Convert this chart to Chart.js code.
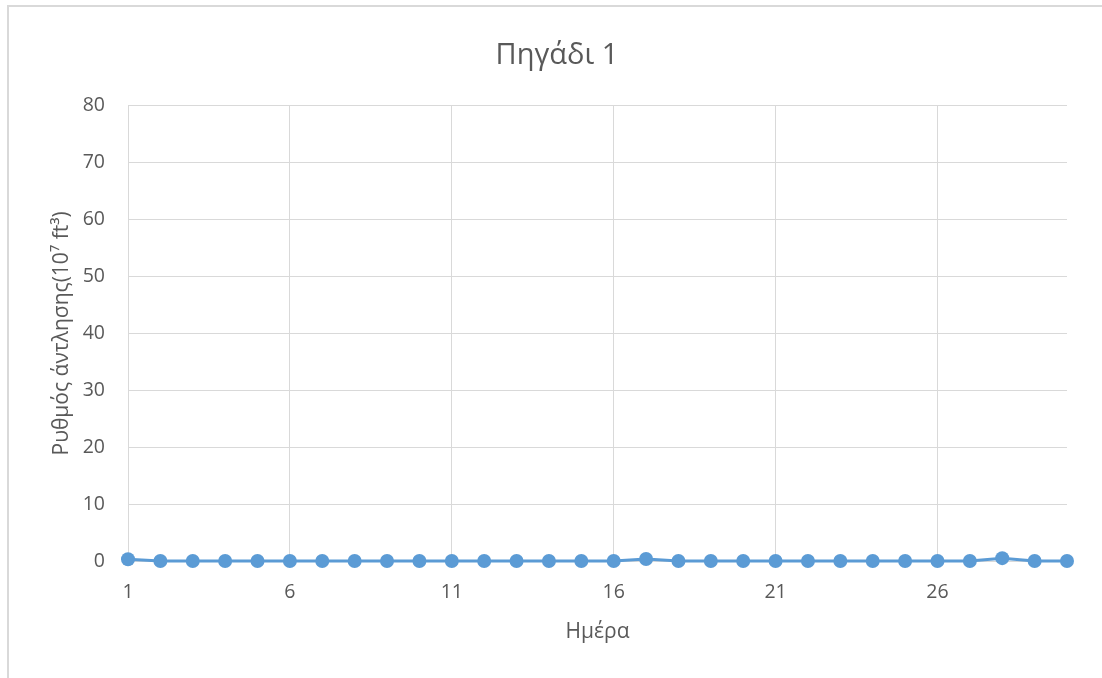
<!DOCTYPE html>
<html>
<head>
<meta charset="utf-8">
<script src="https://cdn.jsdelivr.net/npm/chart.js@4/dist/chart.umd.min.js"></script>
<style>
    body { margin: 0; background: #fff; overflow: hidden; }
    .frame { position: absolute; left: 7px; top: 5px; width: 1200px; height: 800px;
        border-top: 2px solid #d9d9d9; border-left: 2px solid #d9d9d9; }
    #myChart { position: absolute; left: 0; top: 0; }
</style>
</head>
<body>
<div class="frame"></div>
<canvas id="myChart" width="1102" height="678"></canvas>
<script>
    // values
    const days = [1, 2, 3, 4, 5, 6, 7, 8, 9, 10, 11, 12, 13, 14, 15,
        16, 17, 18, 19, 20, 21, 22, 23, 24, 25, 26, 27, 28, 29, 30];
    const pumping = [0.3, 0, 0, 0, 0, 0, 0, 0, 0, 0, 0, 0, 0, 0, 0,
        0, 0.35, 0, 0, 0, 0, 0, 0, 0, 0, 0, 0, 0.5, 0, 0];
    const dayTicks = [1, 6, 11, 16, 21, 26];
    const yTicks = [0, 10, 20, 30, 40, 50, 60, 70, 80];

    const textColor = '#595959';
    const gridColor = '#d9d9d9';
    const fontFamily = '"Open Sans", sans-serif';

    var ctx = document.getElementById('myChart').getContext('2d');
    var chart = new Chart(ctx, {
        type: 'line',
        data: {
            datasets: [{
                data: days.map((d, i) => ({ x: d, y: pumping[i] })),
                borderColor: '#5b9bd5',
                backgroundColor: '#5b9bd5',
                borderWidth: 3,
                pointRadius: 7,
                pointHoverRadius: 7,
                pointBorderWidth: 0,
                tension: 0,
                clip: false
            }]
        },
        options: {
            responsive: false,
            animation: false,
            layout: { padding: { left: 47, right: 35, top: 0, bottom: 0 } },
            plugins: {
                legend: { display: false },
                tooltip: { enabled: false },
                title: {
                    display: true,
                    text: 'Πηγάδι 1',
                    color: textColor,
                    font: { family: fontFamily, size: 29, weight: 'normal' },
                    padding: { top: 38, bottom: 33 }
                }
            },
            scales: {
                x: {
                    type: 'linear',
                    min: days[0],
                    max: days[days.length - 1],
                    afterBuildTicks: s => { s.ticks = dayTicks.map(v => ({ value: v })); },
                    afterFit: s => { s.height = 117; },
                    grid: { color: gridColor, lineWidth: 1, drawTicks: false },
                    border: { color: gridColor, width: 1 },
                    ticks: {
                        color: textColor,
                        font: { family: fontFamily, size: 19.5 },
                        padding: 20,
                        maxRotation: 0
                    },
                    title: {
                        display: true,
                        text: 'Ημέρα',
                        color: textColor,
                        font: { family: fontFamily, size: 21 },
                        padding: { top: 0, bottom: 33 }
                    }
                },
                y: {
                    min: 0,
                    max: 80,
                    afterBuildTicks: s => { s.ticks = yTicks.map(v => ({ value: v })); },
                    afterFit: s => { s.width = 81; },
                    grid: { color: gridColor, lineWidth: 1, drawTicks: false },
                    border: { color: gridColor, width: 1 },
                    ticks: {
                        color: textColor,
                        font: { family: fontFamily, size: 19.5 },
                        padding: 23
                    },
                    title: {
                        display: true,
                        text: 'Ρυθμός άντλησης(10⁷ ft³)',
                        color: textColor,
                        font: { family: fontFamily, size: 21 },
                        padding: { top: 2, bottom: 0 }
                    }
                }
            }
        }
    });
</script>
</body>
</html>
